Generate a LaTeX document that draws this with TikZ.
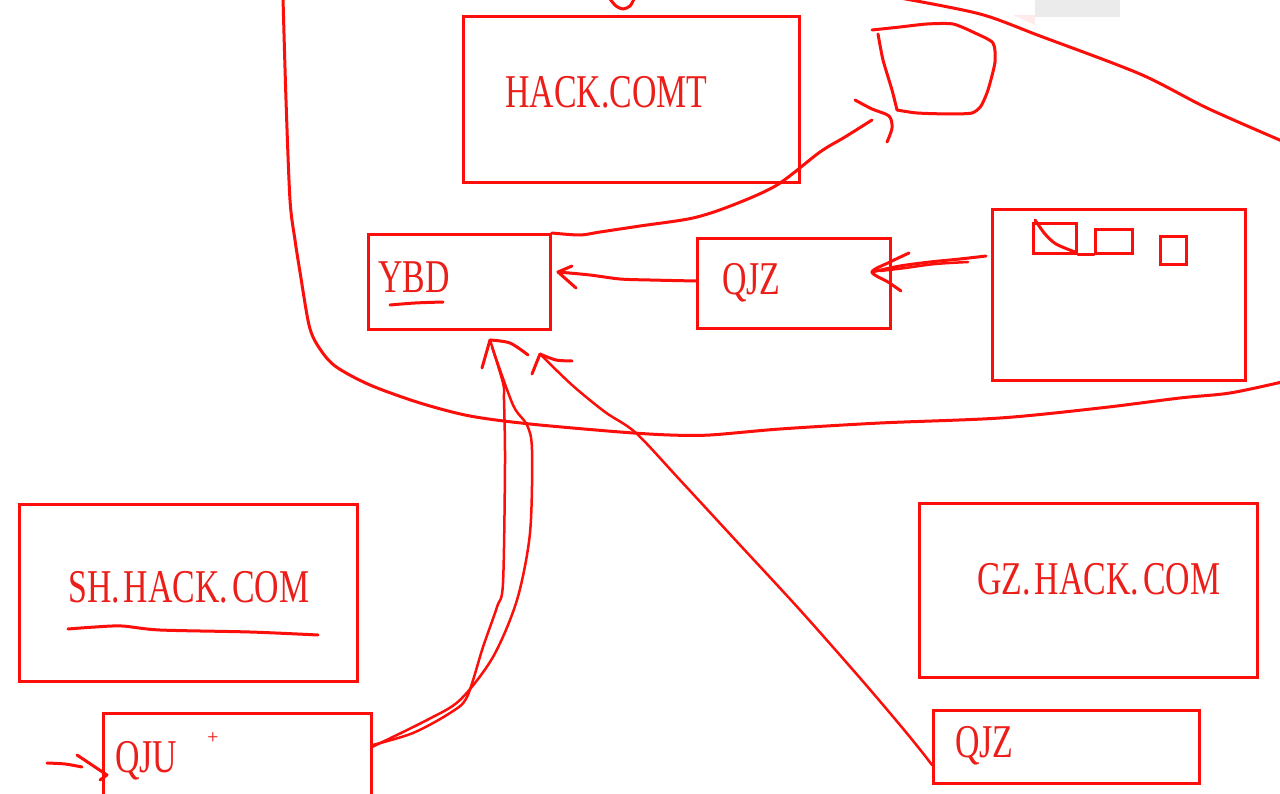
\documentclass[tikz,border=0pt]{standalone}
\usepackage{fontspec}
\newfontfamily\handfont[FakeStretch=0.72]{Liberation Serif}
\definecolor{ink}{RGB}{252,15,10}
\definecolor{txt}{RGB}{235,30,25}
\begin{document}
\begin{tikzpicture}[x=1pt,y=-1pt,
  box/.style={draw=ink, line width=2.8pt, anchor=north west, inner sep=0pt},
  lbl/.style={text=txt, anchor=base west, inner sep=0pt, font=\handfont\fontsize{47}{47}\selectfont},
  hand/.style={draw=ink, line width=3pt, line cap=round, line join=round},
  thin/.style={draw=ink, line width=2.5pt, line cap=round, line join=round}]
\useasboundingbox (0,0) rectangle (1280,794);
\clip (0,0) rectangle (1280,794);
\fill[white] (0,0) rectangle (1280,794);
% faint smudge at the top
\fill[black!8] (1035,0) rectangle (1120,17);
\fill[red!8] (1013,15) -- (1035,15) -- (1035,25) -- cycle;

% boxes
\node[box, minimum width=336pt, minimum height=166pt] (hack) at (462,15) {};
\node[box, minimum width=182pt, minimum height=95pt] (ybd) at (367,233) {};
\node[box, minimum width=193pt, minimum height=90pt] (qjzm) at (696,237) {};
\node[box, minimum width=253pt, minimum height=171pt] (panel) at (991,208) {};
\node[box, minimum width=43pt, minimum height=30pt] (sb1) at (1032,222) {};
\node[box, minimum width=37pt, minimum height=24pt] (sb2) at (1094,228) {};
\node[box, minimum width=26pt, minimum height=28pt] (sb3) at (1159,235) {};
\node[box, minimum width=338pt, minimum height=177pt] (sh) at (18,503) {};
\node[box, minimum width=338pt, minimum height=174pt] (gz) at (918,502) {};
\node[box, minimum width=268pt, minimum height=110pt] (qju) at (102,712) {};
\node[box, minimum width=266pt, minimum height=73pt] (qjzb) at (932,709) {};

% labels
\node[lbl] (thack) at (505,108) {HACK.COMT};
\node[lbl] (tybd) at (378,293) {YBD};
\node[lbl] (tqjzm) at (722,295) {QJZ};
\node[lbl] (tsh) at (68,602) {SH.\kern4pt HACK.\kern4pt COM};
\node[lbl] (tgz) at (977,594) {GZ.\kern4pt HACK.\kern4pt COM};
\node[lbl] (tqju) at (115,772) {QJU};
\node[lbl] (tqjzb) at (955,757) {QJZ};
\node[text=txt, font=\bfseries\sffamily\fontsize{13}{13}\selectfont, inner sep=0pt] (plus) at (213,737) {+};

% underlines
\draw[hand] plot[smooth] coordinates {(390,305) (415,303) (443,302)};
\draw[hand] plot[smooth] coordinates {(68,629) (95,627) (122,626) (160,630) (250,632) (318,635)};

% named tips
\coordinate (tipP) at (889,116);
\coordinate (tipQ) at (872,272);
\coordinate (tipY) at (558,272);
\coordinate (tip1) at (490,340);
\coordinate (tip2) at (540,354);
\coordinate (tipU) at (107,775);

% big loop
\draw[hand] plot[smooth] coordinates {(283,-2) (286,100) (290,200) (295,240) (300,272) (309,325) (318,346) (335,366) (370,385) (420,403) (470,416) (530,424) (620,432) (670,435) (710,435) (780,429) (880,423) (1000,418) (1100,408) (1180,398) (1230,393) (1282,382)};
\draw[hand] plot[smooth] coordinates {(900,-2) (980,14) (1040,36) (1140,74) (1207,108) (1282,141)};

% small curl at the top
\draw[hand] plot[smooth] coordinates {(610,-1) (616,6) (623,9) (630,6) (634,-1)};

% pentagon
\coordinate (pent) at (935,70);
\draw[hand] plot[smooth, tension=0.4] coordinates {(872,30) (900,27) (927,24) (953,24) (975,33) (993,43) (995,62) (988,90) (981,106) (972,113) (950,114) (917,113) (897,110)};
\draw[hand] plot[smooth, tension=0.4] coordinates {(878,34) (883,60) (892,90) (897,110)};

% YBD -> pentagon
\draw[hand] plot[smooth] coordinates {(ybd.north east) (580,235) (600,232) (640,226) (693,218) (733,205) (777,185) (820,152) (845,137) (872,120)};
\draw[hand] plot[smooth] coordinates {(855,100) (872,109) (tipP) (892,128) (887,142)};

% panel -> QJZ
\draw[hand] plot[smooth] coordinates {(986,256) (960,259) (930,262) (900,266) (tipQ)};
\draw[thin] plot[smooth] coordinates {(968,262) (935,264) (905,268) (880,271)};
\draw[hand] plot[smooth] coordinates {(909,253) (890,262) (tipQ) (888,282) (901,291)};

% QJZ -> YBD
\draw[hand] plot[smooth] coordinates {(qjzm.west |- 0,281) (650,280) (620,279) (590,275) (tipY)};
\draw[hand] (572,266) -- (tipY) -- (576,288);

% QJU -> YBD (two strokes)
\draw[thin] plot[smooth] coordinates {(qju.east |- 0,745) (413,733) (450,713) (467,697) (483,647) (497,607) (503,583) (505,463) (504,400) (503,383) (tip1)};
\draw[thin] plot[smooth] coordinates {(372,747) (427,720) (460,700) (493,657) (517,600) (530,533) (532,450) (527,425) (513,405) (492,347)};
\draw[hand] (482,368) -- (tip1);
\draw[hand] plot[smooth] coordinates {(tip1) (510,343) (528,355)};

% QJZ (bottom) -> YBD
\draw[thin] plot[smooth] coordinates {(qjzb.west |- 0,765) (922,752) (900,725) (860,678) (800,610) (740,545) (680,480) (636,433) (605,412) (572,385) (tip2)};
\draw[hand] (532,374) -- (tip2);
\draw[hand] plot[smooth] coordinates {(tip2) (556,360) (572,361)};

% arrow into QJU
\draw[hand] plot[smooth] coordinates {(47,763) (65,764) (82,767)};
\draw[hand] (77,755) -- (tipU) -- (100,780);

% marks inside panel
\draw[hand] (sb1.south east) -- (sb2.south west);
\draw[hand] plot[smooth] coordinates {(1035,220) (1045,234) (1056,244) (1075,252)};
\end{tikzpicture}
\end{document}
